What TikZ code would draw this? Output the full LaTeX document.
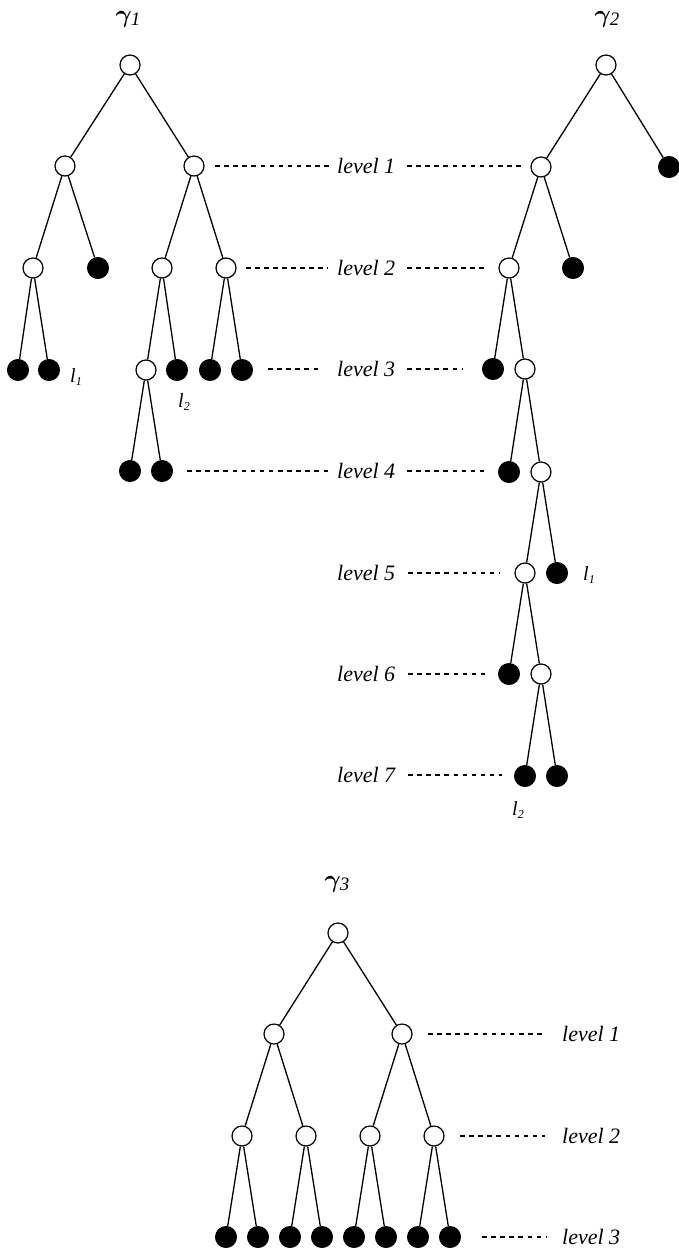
\documentclass[tikz,border=0pt]{standalone}
\usepackage{fontspec}
\setmainfont{Liberation Serif}
\begin{document}
\begin{tikzpicture}[x=1pt,y=-1pt,
  open/.style={circle,draw,fill=white,minimum size=20pt,inner sep=0pt,line width=1.2pt},
  leaf/.style={circle,draw,fill=black,minimum size=21pt,inner sep=0pt,line width=1pt},
  edge/.style={line width=1.3pt},
  lvl/.style={dash pattern=on 4.5pt off 4.6pt,line width=1.2pt},
  lvlb/.style={dash pattern=on 5pt off 4pt,line width=1.6pt},
  lvltext/.style={anchor=west,inner sep=0pt,font=\fontsize{22}{26}\selectfont\itshape},
  treename/.style={inner sep=0pt,font=\fontsize{30}{34}\selectfont\itshape},
  leafname/.style={inner sep=0pt,font=\fontsize{20}{24}\selectfont\itshape}]
\useasboundingbox (0,0) rectangle (679,1250);
\newcommand{\tname}[1]{{\boldmath$\gamma$}\kern-1pt\raisebox{-0.25ex}{\fontsize{19}{22}\selectfont #1}}
\newcommand{\lname}[1]{l\raisebox{-0.4ex}{\fontsize{12}{14}\selectfont #1}}

% ---------- tree gamma 1 ----------
\node[treename] (g1) at (128,19) {\tname{1}};
\node[open] (a) at (130,65) {};
\node[open] (a1) at (65,166) {};
\node[open] (a2) at (194,166) {};
\node[open] (a11) at (33,268) {};
\node[leaf] (a12) at (98,268) {};
\node[open] (a21) at (162,268) {};
\node[open] (a22) at (226,268) {};
\node[leaf] (a111) at (18,370) {};
\node[leaf] (a112) at (49,370) {};
\node[open] (a211) at (146,370) {};
\node[leaf] (a212) at (177,370) {};
\node[leaf] (a221) at (210,370) {};
\node[leaf] (a222) at (242,370) {};
\node[leaf] (a2111) at (130,471) {};
\node[leaf] (a2112) at (162,471) {};
\node[leafname] (la1) at (76,377) {\lname{1}};
\node[leafname] (la2) at (184,402) {\lname{2}};
\foreach \p/\c in {a/a1,a/a2,a1/a11,a1/a12,a2/a21,a2/a22,a11/a111,a11/a112,
  a21/a211,a21/a212,a22/a221,a22/a222,a211/a2111,a211/a2112}
  \draw[edge] (\p) -- (\c);

% ---------- tree gamma 2 ----------
\node[treename] (g2) at (607,19) {\tname{2}};
\node[open] (b) at (606,65) {};
\node[open] (b1) at (541,167) {};
\node[leaf] (b2) at (669,167) {};
\node[open] (b11) at (509,268) {};
\node[leaf] (b12) at (573,268) {};
\node[leaf] (b111) at (493,369) {};
\node[open] (b112) at (525,369) {};
\node[leaf] (b1121) at (509,472) {};
\node[open] (b1122) at (541,472) {};
\node[open] (c1) at (525,573) {};
\node[leaf] (c2) at (557,573) {};
\node[leaf] (c11) at (509,674) {};
\node[open] (c12) at (541,674) {};
\node[leaf] (c121) at (525,776) {};
\node[leaf] (c122) at (557,776) {};
\node[leafname] (lb1) at (589,575) {\lname{1}};
\node[leafname] (lb2) at (518,810) {\lname{2}};
\foreach \p/\c in {b/b1,b/b2,b1/b11,b1/b12,b11/b111,b11/b112,b112/b1121,b112/b1122,
  b1122/c1,b1122/c2,c1/c11,c1/c12,c12/c121,c12/c122}
  \draw[edge] (\p) -- (\c);

% ---------- level marks between gamma 1 and gamma 2 ----------
\node[lvltext] (t1) at (337,166) {level 1};
\node[lvltext] (t2) at (337,268) {level 2};
\node[lvltext] (t3) at (337,369) {level 3};
\node[lvltext] (t4) at (337,471) {level 4};
\node[lvltext] (t5) at (337,573) {level 5};
\node[lvltext] (t6) at (337,674) {level 6};
\node[lvltext] (t7) at (337,775) {level 7};
\coordinate (d1a) at (215,166); \coordinate (d1b) at (331,166);
\coordinate (d1c) at (407,166); \coordinate (d1d) at (521,166);
\coordinate (d2a) at (246,268); \coordinate (d2b) at (328,268);
\coordinate (d2c) at (407,268); \coordinate (d2d) at (485,268);
\coordinate (d3a) at (268,369); \coordinate (d3b) at (318,369);
\coordinate (d3c) at (407,369); \coordinate (d3d) at (462,369);
\coordinate (d4a) at (187,471); \coordinate (d4b) at (330,471);
\coordinate (d4c) at (407,471); \coordinate (d4d) at (488,471);
\coordinate (d5c) at (408,573); \coordinate (d5d) at (500,573);
\coordinate (d6c) at (408,674); \coordinate (d6d) at (488,674);
\coordinate (d7c) at (408,775); \coordinate (d7d) at (502,775);
\draw[lvl] (d1a) -- (d1b); \draw[lvl] (d1c) -- (d1d);
\draw[lvlb] (d2a) -- (d2b); \draw[lvlb] (d2c) -- (d2d);
\draw[lvl] (d3a) -- (d3b); \draw[lvl] (d3c) -- (d3d);
\draw[lvl] (d4a) -- (d4b); \draw[lvl] (d4c) -- (d4d);
\draw[lvl] (d5c) -- (d5d);
\draw[lvl] (d6c) -- (d6d);
\draw[lvl] (d7c) -- (d7d);

% ---------- tree gamma 3 ----------
\node[treename] (g3) at (337,884) {\tname{3}};
\node[open] (r) at (338,933) {};
\node[open] (r1) at (274,1034) {};
\node[open] (r2) at (402,1034) {};
\node[open] (r11) at (242,1136) {};
\node[open] (r12) at (306,1136) {};
\node[open] (r21) at (370,1136) {};
\node[open] (r22) at (434,1136) {};
\foreach \i/\x in {1/226,2/258,3/290,4/322,5/354,6/386,7/418,8/450}
  \node[leaf] (s\i) at (\x,1237) {};
\foreach \p/\c in {r/r1,r/r2,r1/r11,r1/r12,r2/r21,r2/r22,
  r11/s1,r11/s2,r12/s3,r12/s4,r21/s5,r21/s6,r22/s7,r22/s8}
  \draw[edge] (\p) -- (\c);
\node[lvltext] (u1) at (562,1034) {level 1};
\node[lvltext] (u2) at (562,1136) {level 2};
\node[lvltext] (u3) at (562,1237) {level 3};
\coordinate (e1a) at (428,1034); \coordinate (e1b) at (543,1034);
\coordinate (e2a) at (460,1136); \coordinate (e2b) at (545,1136);
\coordinate (e3a) at (482,1237); \coordinate (e3b) at (547,1237);
\draw[lvl] (e1a) -- (e1b);
\draw[lvl] (e2a) -- (e2b);
\draw[lvl] (e3a) -- (e3b);
\end{tikzpicture}
\end{document}
